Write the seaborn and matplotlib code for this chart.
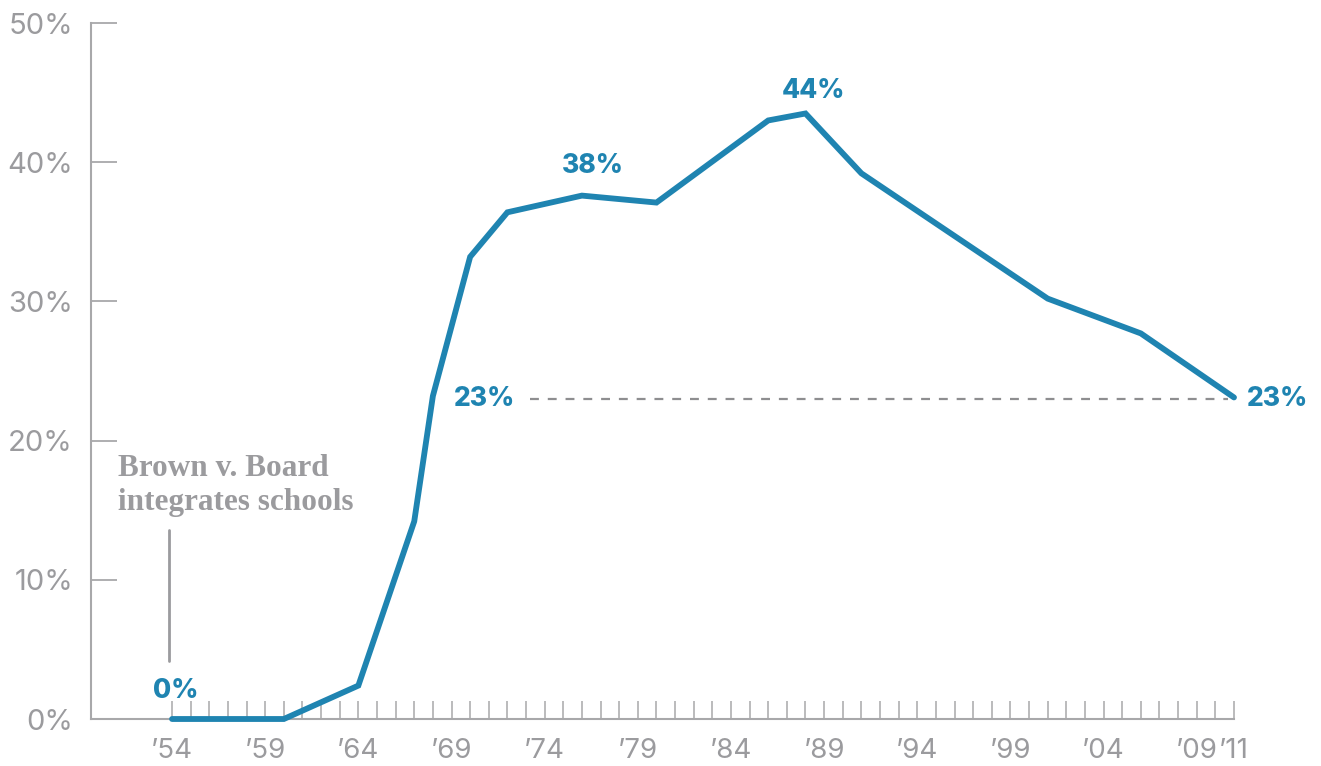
import pandas as pd
import matplotlib.pyplot as plt
import seaborn as sns

# Share of Black students in majority-white southern schools
years = [1954, 1960, 1964, 1967, 1968, 1970, 1972, 1976, 1980, 1986, 1988, 1991, 2001, 2006, 2011]
share = [0.0, 0.0, 2.4, 14.2, 23.2, 33.2, 36.4, 37.6, 37.1, 43.0, 43.5, 39.2, 30.2, 27.7, 23.1]

label_years = [1954, 1959, 1964, 1969, 1974, 1979, 1984, 1989, 1994, 1999, 2004, 2009, 2011]
y_ticks = [0, 10, 20, 30, 40, 50]

# callouts: (year, value, text)
callouts = [(1954.2, 1.1, "0%"), (1976.6, 38.8, "38%"), (1988.4, 44.2, "44%")]
reference_level = 23.0

BLUE = "#1f84b1"
GREY = "#9b9b9e"
AXIS = "#a8a8aa"

sns.set_style("white")
plt.rcParams['font.family'] = ['Inter', 'DejaVu Sans']

df = pd.DataFrame({"year": years, "share": share})

fig = plt.figure(figsize=(13.21, 7.66), dpi=100)
ax = fig.add_axes([91 / 1321, 1 - 719 / 766, (1234 - 91) / 1321, (719 - 23) / 766])

sns.lineplot(data=df, x="year", y="share", color=BLUE, linewidth=4.2, ax=ax,
             solid_joinstyle="miter", clip_on=False, zorder=3)

ax.set_xlim(1949.65, 2011)
ax.set_ylim(0, 50)

# dashed reference line back to the 1968 level
ax.plot([1973.2, 2010.7], [reference_level, reference_level], ls=(0, (4, 4)),
        color="#8e8e90", lw=1.6)
ax.text(1972.4, reference_level, "23%", color=BLUE, fontsize=19, fontweight="heavy",
        ha="right", va="center")
ax.text(2011.7, reference_level, "23%", color=BLUE, fontsize=19, fontweight="heavy",
        ha="left", va="center")

for yr, val, txt in callouts:
    ax.text(yr, val, txt, color=BLUE, fontsize=19, fontweight="heavy",
            ha="center", va="bottom")

# Brown v. Board annotation
ax.text(1951.1, 19.05, "Brown v. Board\nintegrates schools", color=GREY,
        fontsize=22.5, fontweight="bold", family="Liberation Serif",
        ha="left", va="top", linespacing=1.22)
ax.plot([1953.85, 1953.85], [4.2, 13.6], color=GREY, lw=2)

# axes styling
sns.despine(ax=ax)
for side in ["left", "bottom"]:
    ax.spines[side].set_color(AXIS)
    ax.spines[side].set_linewidth(1.5)

all_years = list(range(1954, 2012))
ax.set_xticks(all_years)
ax.set_xticklabels(["\u2019" + str(y)[2:] if y in label_years else "" for y in all_years])
ax.tick_params(axis="x", bottom=True, direction="in", length=13, width=1.1, color=AXIS,
               labelsize=20, labelcolor=GREY, pad=14)

ax.set_yticks(y_ticks)
ax.set_yticklabels([f"{v}%" for v in y_ticks])
ax.tick_params(axis="y", left=True, direction="in", length=19, width=1.3, color=AXIS,
               labelsize=21, labelcolor=GREY, pad=13)

ax.set_xlabel("")
ax.set_ylabel("")
ax.grid(False)

fig.savefig("out.png", dpi=100)
